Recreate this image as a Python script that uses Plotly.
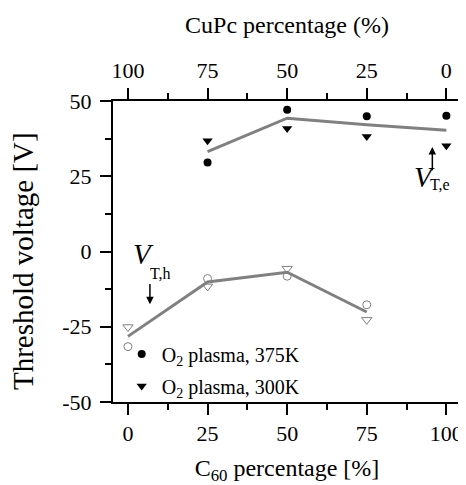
import plotly.graph_objects as go

# Data
c60_e = [25, 50, 75, 100]
vte_375 = [29.6, 47.1, 44.9, 45.1]     # filled circles
vte_300 = [36.8, 40.9, 38.2, 35.1]     # filled triangles
vte_avg = [33.2, 44.3, 42.1, 40.3]     # grey line (electron)

c60_h = [0, 25, 50, 75]
vth_375 = [-31.6, -9.0, -8.2, -17.7]   # open circles
vth_300 = [-25.1, -11.6, -5.7, -22.7]  # open triangles
vth_avg = [-28.2, -10.1, -6.9, -20.1]  # grey line (hole)

x_ticks = [0, 25, 50, 75, 100]
x_ticktext = ["0", "25", "50", "75", "100"]
cupc_ticks = [100, 75, 50, 25, 0]
cupc_ticktext = ["100", "75", "50", "25", "0"]
y_ticks = [-50, -25, 0, 25, 50]
y_ticktext = ["-50", "-25", "0", "25", "50"]

FONT = "Liberation Serif"
GREY = "#808080"

fig = go.Figure()
fig.add_trace(go.Scatter(x=c60_e, y=vte_avg, mode="lines",
                         line=dict(color=GREY, width=3), showlegend=False))
fig.add_trace(go.Scatter(x=c60_h, y=vth_avg, mode="lines",
                         line=dict(color=GREY, width=3), showlegend=False))
fig.add_trace(go.Scatter(x=c60_e, y=vte_375, mode="markers",
                         marker=dict(symbol="circle", size=8, color="black"),
                         name="O<sub>2</sub> plasma, 375K", legendgroup="a"))
fig.add_trace(go.Scatter(x=c60_e, y=vte_300, mode="markers",
                         marker=dict(symbol="triangle-down", size=9, color="black"),
                         name="O<sub>2</sub> plasma, 300K", legendgroup="b"))
fig.add_trace(go.Scatter(x=c60_h, y=vth_375, mode="markers",
                         marker=dict(symbol="circle-open", size=8, color=GREY,
                                     line=dict(width=1)),
                         showlegend=False))
fig.add_trace(go.Scatter(x=c60_h, y=vth_300, mode="markers",
                         marker=dict(symbol="triangle-down-open", size=9, color=GREY,
                                     line=dict(width=1)),
                         showlegend=False))
# top axis carrier
fig.add_trace(go.Scatter(x=[], y=[], xaxis="x2", showlegend=False, hoverinfo="skip"))

minor = dict(dtick=12.5, ticks="outside", ticklen=6, tickwidth=2, tickcolor="black")
axis_common = dict(showgrid=False, zeroline=False, showline=True, linecolor="black",
                   linewidth=2, ticks="outside", ticklen=11, tickwidth=2,
                   tickcolor="black", automargin=False,
                   tickfont=dict(family=FONT, size=22, color="black"))

fig.update_layout(
    width=458, height=477,
    margin=dict(l=105, r=5, t=93, b=83),
    plot_bgcolor="white", paper_bgcolor="white",
    font=dict(family=FONT, color="black"),
    xaxis=dict(range=[-4.7, 104.6], tickvals=x_ticks, ticktext=x_ticktext, mirror=True,
               minor=minor,
               title=dict(text="C<sub>60</sub> percentage [%]", font=dict(family=FONT, size=24), standoff=16),
               **axis_common),
    xaxis2=dict(overlaying="x", side="top", anchor="y", range=[104.7, -4.6],
                tickvals=cupc_ticks, ticktext=cupc_ticktext, minor=minor,
                ticklabelstandoff=1,
                title=dict(text="CuPc percentage (%)", font=dict(family=FONT, size=24), standoff=18),
                **axis_common),
    yaxis=dict(range=[-50, 50], tickvals=y_ticks, ticktext=y_ticktext, mirror=True,
               minor=minor, ticklabelstandoff=4,
               **axis_common),
    legend=dict(x=0.025, y=-0.012, xanchor="left", yanchor="bottom",
                bgcolor="rgba(0,0,0,0)", font=dict(family=FONT, size=20, color="black"),
                traceorder="grouped", tracegroupgap=3),
    showlegend=True,
)

# y axis title (placed slightly below the axis centre as in the original)
fig.add_annotation(xref="paper", yref="paper", x=-0.259, y=0.468,
                   text="Threshold voltage [V]", textangle=-90, showarrow=False,
                   xanchor="center", yanchor="middle",
                   font=dict(family=FONT, size=29, color="black"))

# V_T,h label and arrow
fig.add_annotation(x=4.8, y=-0.7, text="<i>V</i>", showarrow=False,
                   font=dict(family=FONT, size=29, color="black"))
fig.add_annotation(x=10.2, y=-7.3, text="T,h", showarrow=False,
                   font=dict(family=FONT, size=16, color="black"))
fig.add_annotation(x=6.9, y=-17.5, ax=6.9, ay=-10.3, axref="x", ayref="y",
                   text="", showarrow=True, arrowhead=2, arrowsize=1, arrowwidth=1.5,
                   arrowcolor="black")
# V_T,e label and arrow
fig.add_annotation(x=93.0, y=24.8, text="<i>V</i>", showarrow=False,
                   font=dict(family=FONT, size=29, color="black"))
fig.add_annotation(x=98.0, y=22.3, text="T,e", showarrow=False,
                   font=dict(family=FONT, size=16, color="black"))
fig.add_annotation(x=95.6, y=34.7, ax=95.6, ay=26.5, axref="x", ayref="y",
                   text="", showarrow=True, arrowhead=2, arrowsize=1, arrowwidth=1.5,
                   arrowcolor="black")

fig.write_html("out.html")
